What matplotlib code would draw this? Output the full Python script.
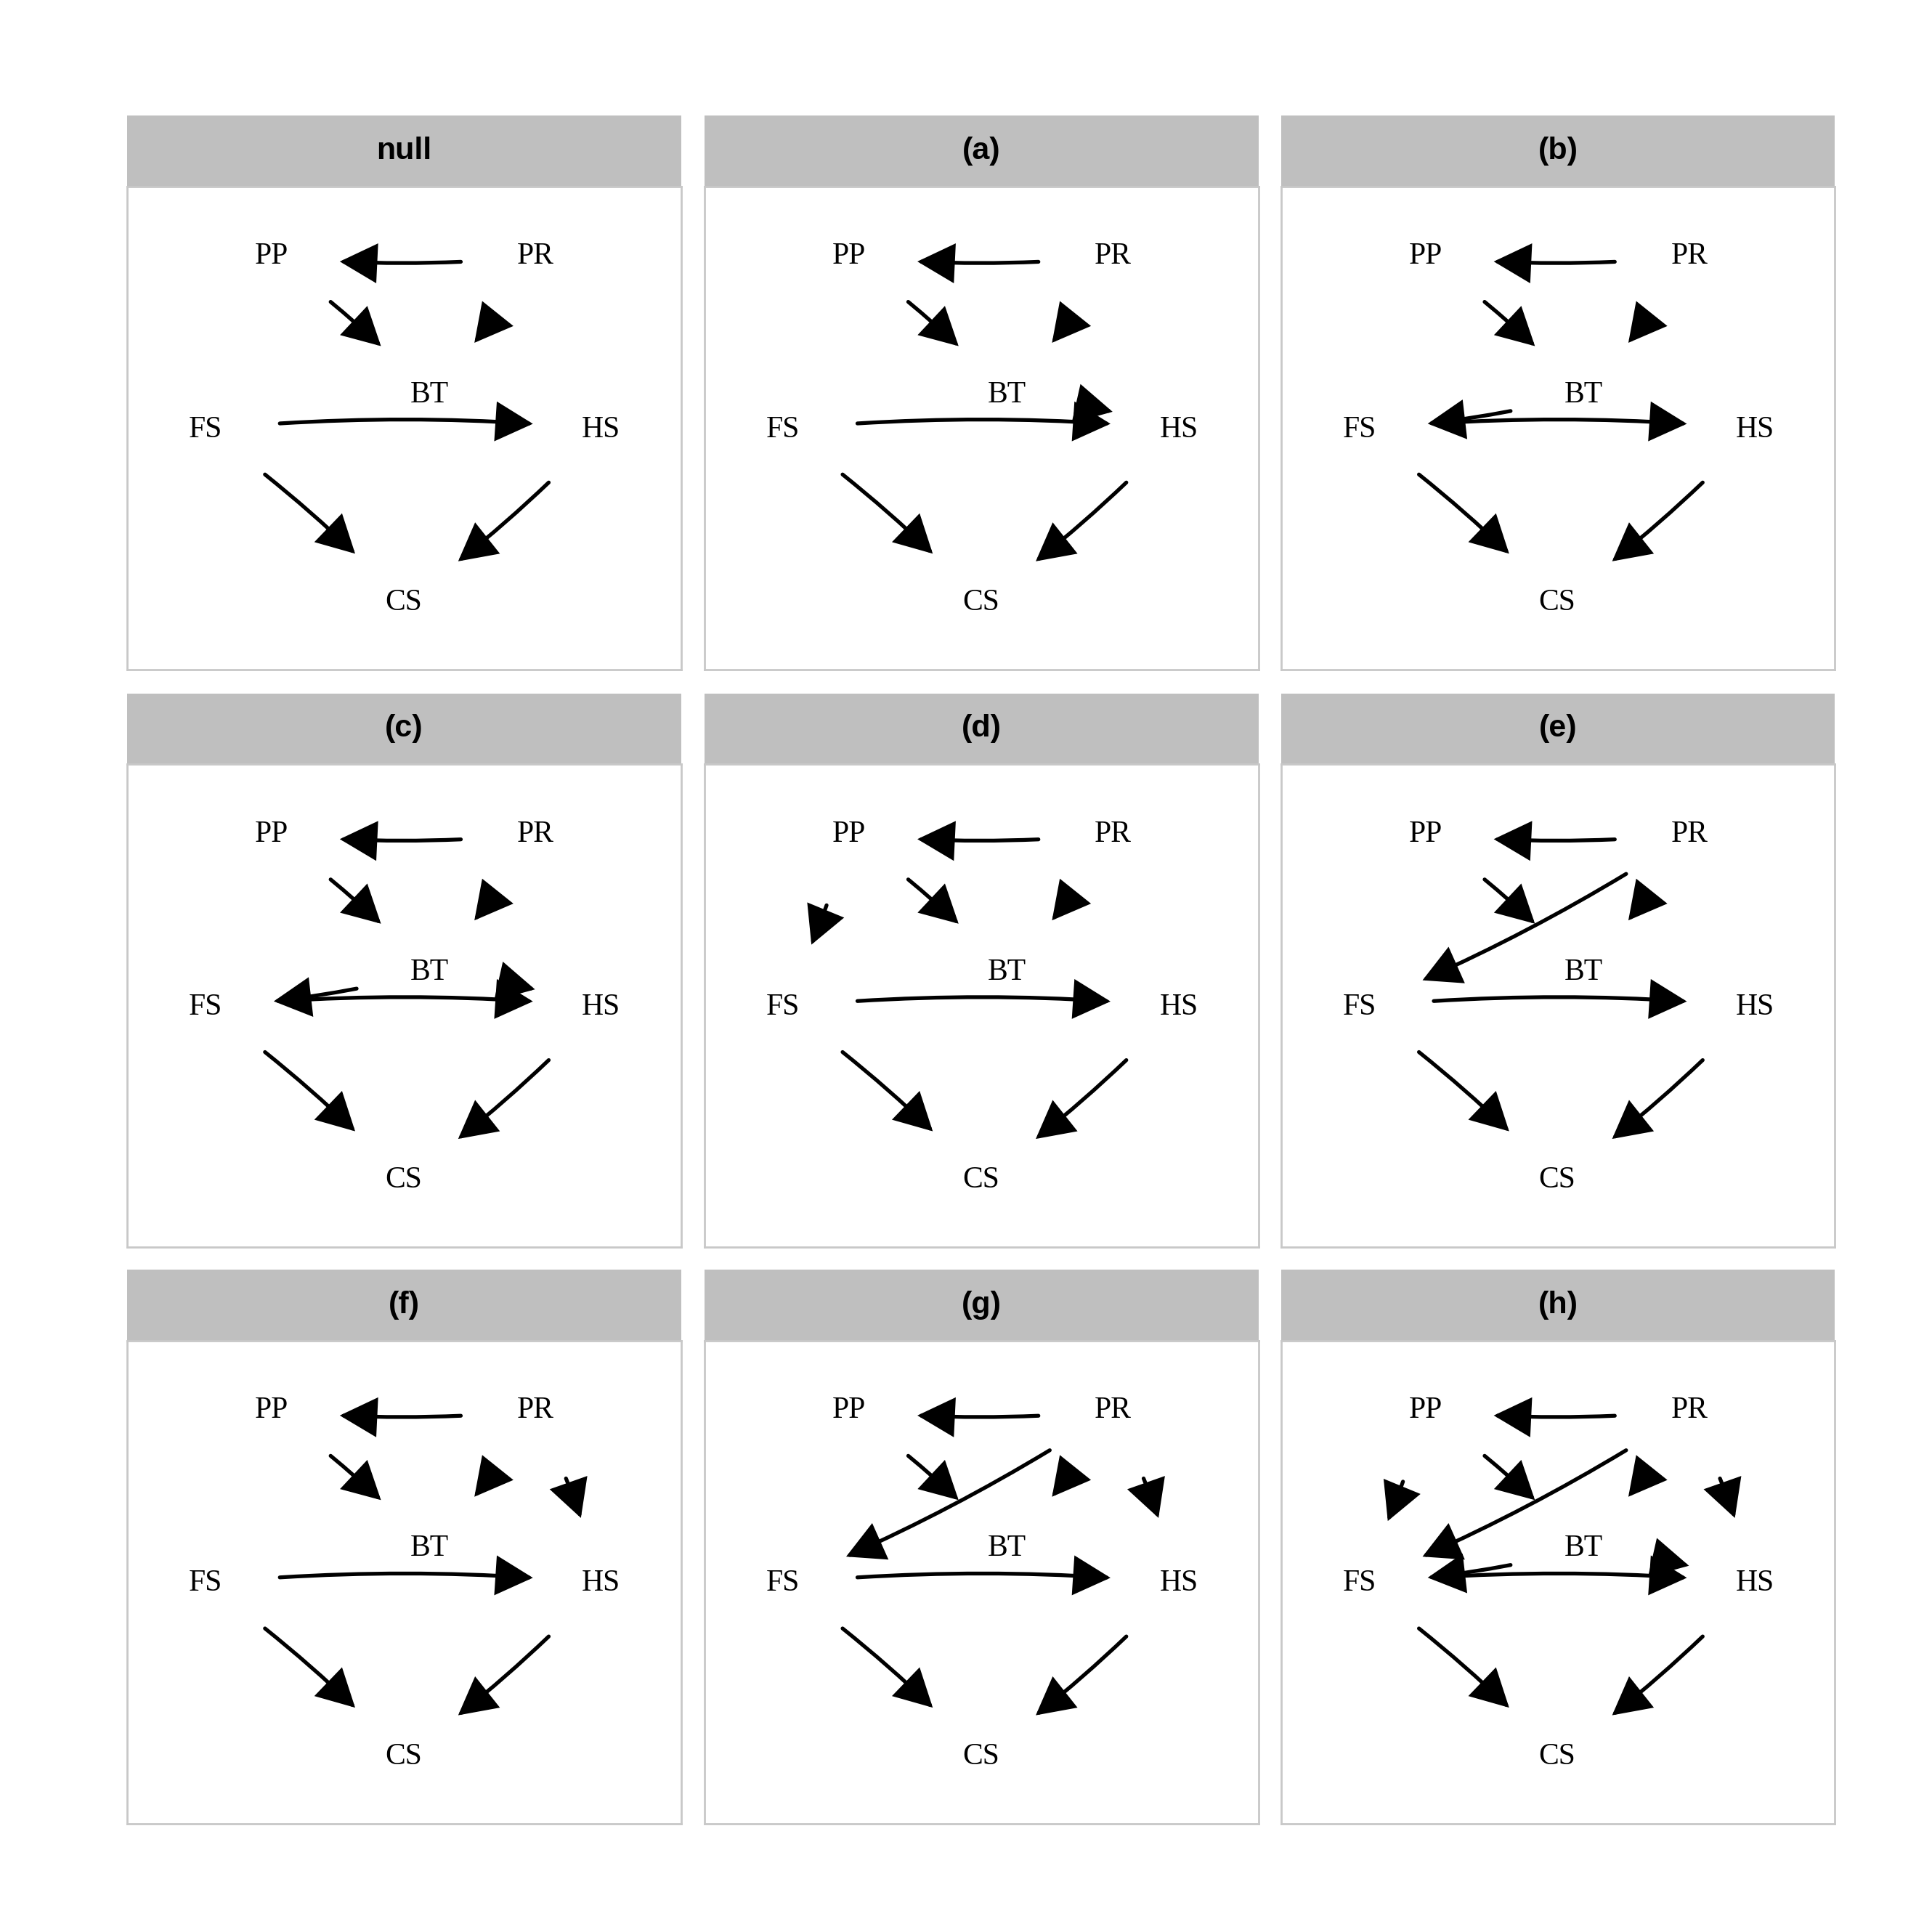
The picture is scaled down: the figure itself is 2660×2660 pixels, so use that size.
import matplotlib
matplotlib.use("Agg")
import matplotlib.pyplot as plt
from matplotlib.patches import FancyArrowPatch

panels = ["null", "(a)", "(b)", "(c)", "(d)", "(e)", "(f)", "(g)", "(h)"]
nodes = ["PP", "PR", "FS", "BT", "HS", "CS"]
node_x = [116, 328, 63, 243, 381, 222]
node_y = [56, 56, 195, 167, 195, 334]
base_edges = [("PR", "PP"), ("PP", "BT"), ("PR", "BT"), ("FS", "HS"), ("FS", "CS"), ("HS", "CS")]
extra_edges = [
    [],
    [("BT", "HS")],
    [("BT", "FS")],
    [("BT", "FS"), ("BT", "HS")],
    [("PP", "FS")],
    [("PR", "FS")],
    [("PR", "HS")],
    [("PR", "FS"), ("PR", "HS")],
    [("PP", "FS"), ("PR", "FS"), ("PR", "HS"), ("BT", "FS"), ("BT", "HS")],
]

pos = {n: (x, y) for n, x, y in zip(nodes, node_x, node_y)}

S = 1552.0
fig = plt.figure(figsize=(13.3, 13.3), dpi=200)
lefts = [102, 566, 1029]
tops = [93, 557, 1020]
W = 445
strip_h = 57

for i, title in enumerate(panels):
    r, c = divmod(i, 3)
    L, T = lefts[c], tops[r]
    # strip
    sax = fig.add_axes([L / S, 1 - (T + strip_h) / S, W / S, strip_h / S])
    sax.set_facecolor("#bfbfbf")
    sax.set_xticks([]); sax.set_yticks([])
    for sp in sax.spines.values():
        sp.set_visible(False)
    sax.text(0.5, 0.5, title, ha="center", va="center", fontsize=15.5,
             fontweight="bold", family="Liberation Sans", transform=sax.transAxes)
    # content
    ch = W - strip_h
    ax = fig.add_axes([L / S, 1 - (T + W) / S, W / S, ch / S])
    ax.set_xlim(0, W); ax.set_ylim(ch, 0)
    ax.set_xticks([]); ax.set_yticks([])
    for sp in ax.spines.values():
        sp.set_color("#c8c8c8"); sp.set_linewidth(1.0)
    for n in nodes:
        ax.text(pos[n][0], pos[n][1], n, ha="center", va="center",
                fontsize=15, family="Liberation Serif")
    for a, b in base_edges + extra_edges[i]:
        p = FancyArrowPatch(pos[a], pos[b], arrowstyle="-|>,head_length=0.6,head_width=0.32",
                            mutation_scale=26, connectionstyle="arc3,rad=-0.05",
                            shrinkA=37, shrinkB=34, color="black", lw=1.9,
                            joinstyle="miter")
        ax.add_patch(p)

fig.savefig("out.png", dpi=200, facecolor="white")
